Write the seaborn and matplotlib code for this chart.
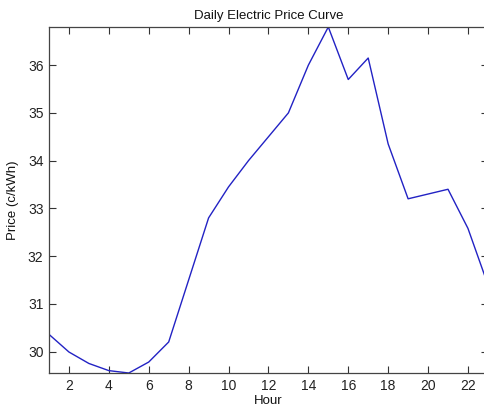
import numpy as np
import pandas as pd
import seaborn as sns
from matplotlib import pyplot as plt

# hourly price readings
hours = list(range(1, 24))
price = [30.36, 29.99, 29.75, 29.60, 29.55, 29.78, 30.20, 31.50, 32.80,
         33.45, 34.00, 34.50, 35.00, 36.00, 36.80, 35.70, 36.15, 34.35,
         33.20, 33.30, 33.40, 32.58, 31.40]

x_ticks = list(range(2, 24, 2))
y_ticks = [30, 31, 32, 33, 34, 35, 36]

df = pd.DataFrame({"Hour": hours, "Price": price})

sns.set_theme(style="ticks")
plt.rcParams["font.family"] = ["Liberation Sans", "DejaVu Sans"]

fig = plt.figure(figsize=(4.85, 4.09), dpi=100)
ax = fig.add_axes([0.101, 0.088, 0.905, 0.846])

sns.lineplot(data=df, x="Hour", y="Price", ax=ax, color="#2222c4", linewidth=1.0)

ax.set_xlim(min(hours), max(hours))
ax.set_ylim(min(price), max(price))
ax.set_xticks(x_ticks)
ax.set_yticks(y_ticks)
ax.tick_params(direction="in", length=5, width=0.8, top=True, right=True,
               labelsize=10, colors="#333333", labelcolor="#222222", pad=4)
for s in ax.spines.values():
    s.set_color("#444444")
    s.set_linewidth(0.9)

ax.set_title("Daily Electric Price Curve", fontsize=9.5, color="#111111", pad=6)
ax.set_xlabel("Hour", fontsize=9.5, color="#111111", labelpad=2)
ax.set_ylabel("Price (c/kWh)", fontsize=9.5, color="#111111", labelpad=6)

fig.savefig("out.png", dpi=100)
